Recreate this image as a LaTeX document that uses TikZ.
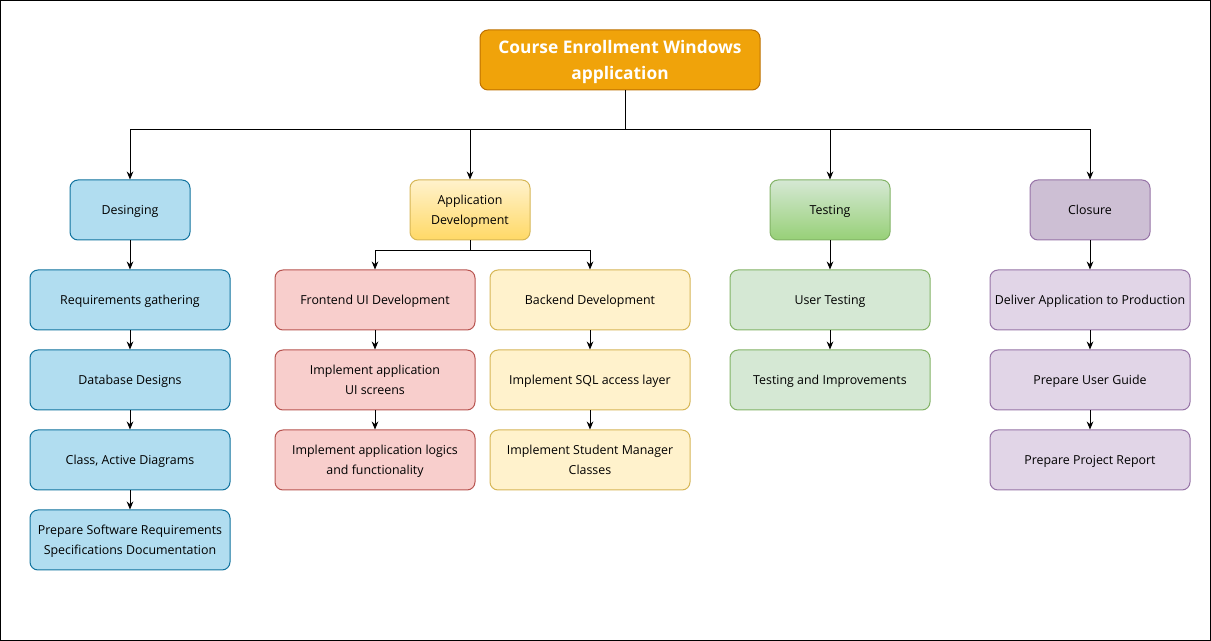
\documentclass[tikz,border=0pt]{standalone}
\usepackage{fontspec}
\setmainfont{Open Sans}
\usepackage{tikz}
\usetikzlibrary{
    calc,
    arrows.meta,
    positioning
}
\definecolor{rootfill}{HTML}{F0A30A}
\definecolor{rootline}{HTML}{BD7000}
\definecolor{bluefill}{HTML}{B1DDF0}
\definecolor{blueline}{HTML}{10739E}
\definecolor{yelfill}{HTML}{FFF2CC}
\definecolor{yeldark}{HTML}{FFD966}
\definecolor{yelline}{HTML}{D6B656}
\definecolor{redfill}{HTML}{F8CECC}
\definecolor{redline}{HTML}{B85450}
\definecolor{grnfill}{HTML}{D5E8D4}
\definecolor{grndark}{HTML}{97D077}
\definecolor{grnline}{HTML}{82B366}
\definecolor{purfill}{HTML}{E1D5E7}
\definecolor{purdark}{HTML}{CDBFD4}
\definecolor{purline}{HTML}{9673A6}
\tikzset{
    box/.style={draw, line width=0.75pt, rounded corners=6pt, align=center,
        minimum width=150pt, minimum height=45pt, inner sep=1pt, text depth=0pt,
        font=\fontsize{9.3}{15}\selectfont},
    head/.style={box, minimum width=90pt},
    link/.style={-{Stealth[length=6pt,width=5pt]}, line width=0.75pt}
}

\begin{document}
\begin{tikzpicture}[x=0.75pt, y=-0.75pt]
        \useasboundingbox (0,0) rectangle (1211,641);
        \draw[line width=0.75pt] (0.5,0.5) rectangle (1210.5,640.5);

        \node[box, fill=rootfill, draw=rootline, text=white, minimum width=210pt,
            font=\fontsize{13}{19.5}\selectfont\bfseries] (root) at (620,60)
            {Course Enrollment Windows\\application};

        % phases
        \node[head, fill=bluefill, draw=blueline] (des) at (130,210) {Desinging};
        \node[head, top color=yelfill, bottom color=yeldark, draw=yelline] (dev) at (470,210)
            {Application\\Development};
        \node[head, top color=grnfill, bottom color=grndark, draw=grnline] (tst) at (830,210) {Testing};
        \node[head, fill=purdark, draw=purline] (clo) at (1090,210) {Closure};

        % designing
        \node[box, fill=bluefill, draw=blueline] (des1) at (130,300) {Requirements gathering};
        \node[box, fill=bluefill, draw=blueline] (des2) at (130,380) {Database Designs};
        \node[box, fill=bluefill, draw=blueline] (des3) at (130,460) {Class, Active Diagrams};
        \node[box, fill=bluefill, draw=blueline] (des4) at (130,540)
            {Prepare Software Requirements\\Specifications Documentation};

        % development
        \node[box, fill=redfill, draw=redline] (fe1) at (375,300) {Frontend UI Development};
        \node[box, fill=redfill, draw=redline] (fe2) at (375,380) {Implement application\\UI screens};
        \node[box, fill=redfill, draw=redline] (fe3) at (375,460)
            {Implement application logics\\and functionality};
        \node[box, fill=yelfill, draw=yelline] (be1) at (590,300) {Backend Development};
        \node[box, fill=yelfill, draw=yelline] (be2) at (590,380) {Implement SQL access layer};
        \node[box, fill=yelfill, draw=yelline] (be3) at (590,460)
            {Implement Student Manager\\Classes};

        % testing
        \node[box, fill=grnfill, draw=grnline] (tst1) at (830,300) {User Testing};
        \node[box, fill=grnfill, draw=grnline] (tst2) at (830,380) {Testing and Improvements};

        % closure
        \node[box, fill=purfill, draw=purline] (clo1) at (1090,300) {Deliver Application to Production};
        \node[box, fill=purfill, draw=purline] (clo2) at (1090,380) {Prepare User Guide};
        \node[box, fill=purfill, draw=purline] (clo3) at (1090,460) {Prepare Project Report};

        \coordinate (bus) at (625,130);
        \draw[line width=0.75pt] ([xshift=3.75pt]root.south) -- (bus);
        \foreach \p in {des,dev,tst,clo}
            \draw[link] (bus) -| (\p.north);

        \draw[link] (dev.south) -- ++(0,10) -| (fe1.north);
        \draw[link] (dev.south) -- ++(0,10) -| (be1.north);

        \foreach \a/\b in {des/des1,des1/des2,des2/des3,des3/des4,fe1/fe2,fe2/fe3,
            be1/be2,be2/be3,tst/tst1,tst1/tst2,clo/clo1,clo1/clo2,clo2/clo3}
            \draw[link] (\a) -- (\b);
    \end{tikzpicture}
\end{document}
